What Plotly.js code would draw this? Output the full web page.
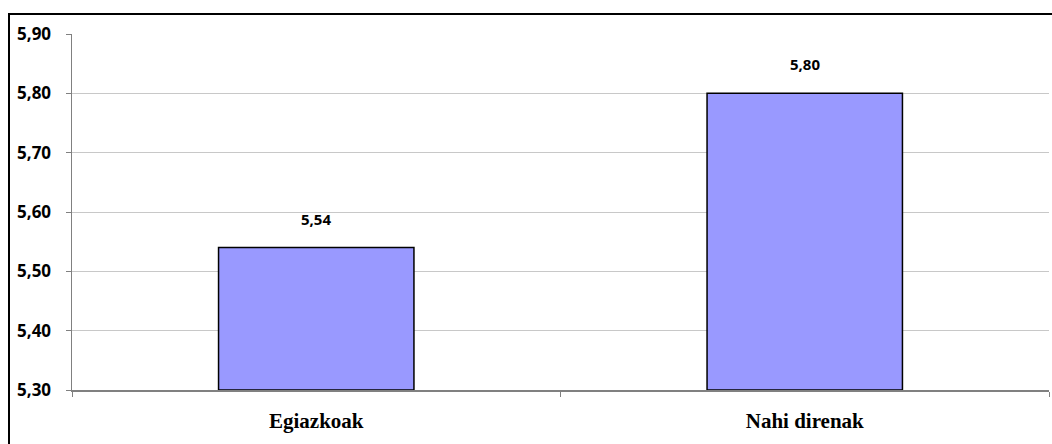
<!DOCTYPE html>
<html>
<head>
<meta charset="utf-8">
<script src="https://cdn.plot.ly/plotly-3.0.1.min.js"></script>
<style>
html,body{margin:0;padding:0;background:#fff;}
#wrap{position:relative;width:1052px;height:444px;overflow:hidden;}
#chart{position:absolute;left:0;top:0;width:1052px;height:444px;}
#frame{position:absolute;left:8px;top:13px;width:1100px;height:500px;border-left:2px solid #000;border-top:2px solid #000;pointer-events:none;}
</style>
</head>
<body>
<div id="wrap"><div id="chart"></div><div id="frame"></div></div>
<script>
const categories = ["Egiazkoak", "Nahi direnak"];
const values = [5.54, 5.80];
const valueLabels = ["5,54", "5,80"];
const yTickVals = [5.30, 5.40, 5.50, 5.60, 5.70, 5.80, 5.90];
const yTickText = ["5,30", "5,40", "5,50", "5,60", "5,70", "5,80", "5,90"];
const baseValue = 5.30;

const trace = {
  type: "bar",
  x: categories,
  y: values.map(v => v - baseValue),
  base: baseValue,
  marker: {color: "#9999FF", line: {color: "#000000", width: 1.5}},
  hoverinfo: "none"
};

const annotations = categories.map((c, i) => ({
  x: c, y: values[i], xref: "x", yref: "y",
  text: valueLabels[i], showarrow: false,
  yanchor: "middle", yshift: 29,
  font: {family: "Open Sans, sans-serif", size: 15, color: "#000", weight: "bold"}
}));

const layout = {
  width: 1052, height: 444,
  margin: {l: 72, r: 3, t: 34, b: 54},
  paper_bgcolor: "#fff", plot_bgcolor: "#fff",
  showlegend: false,
  bargap: 0.6,
  xaxis: {
    type: "category",
    showline: true, linecolor: "#808080", linewidth: 1.5,
    ticks: "outside", ticklen: 5, tickcolor: "#808080", tickwidth: 1,
    tickson: "boundaries",
    showgrid: false,
    tickfont: {family: "Liberation Serif, serif", size: 21, color: "#000", weight: "bold"},
    ticklabelstandoff: 11
  },
  yaxis: {
    range: [5.30, 5.90],
    tickvals: yTickVals, ticktext: yTickText,
    showline: true, linecolor: "#808080", linewidth: 1.5,
    ticks: "outside", ticklen: 5, tickcolor: "#808080", tickwidth: 1,
    showgrid: true, gridcolor: "#c8c8c8", gridwidth: 1,
    zeroline: false,
    tickfont: {family: "Open Sans, sans-serif", size: 17, color: "#000", weight: "bold"},
    ticklabelstandoff: 11
  },
  annotations: annotations
};

Plotly.newPlot("chart", [trace], layout, {staticPlot: true, displayModeBar: false});
</script>
</body>
</html>
